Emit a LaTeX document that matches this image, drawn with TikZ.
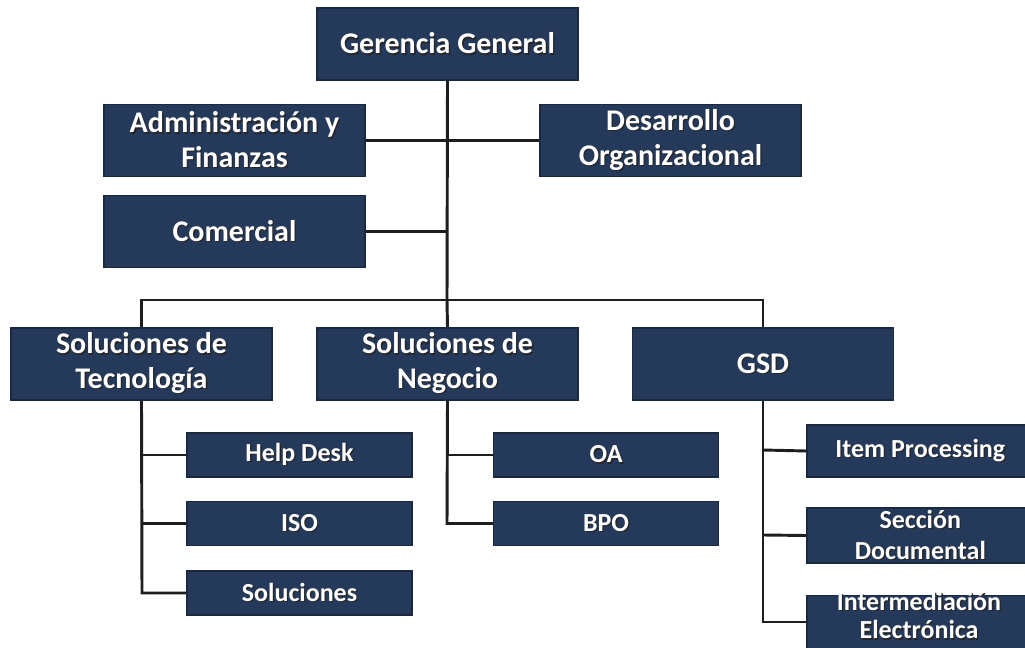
\documentclass[tikz,border=0pt]{standalone}
\usepackage{fontspec}
\setmainfont{Carlito}
\definecolor{boxfill}{HTML}{25395A}
\definecolor{boxedge}{HTML}{1A2840}
\definecolor{linec}{HTML}{1E1E1E}
\newcommand\sh[1]{\makebox[0pt][l]{\hspace{1pt}\raisebox{-1pt}{\textcolor{black!85}{#1}}}#1}
\tikzset{
  bigbox/.style={fill=boxfill, draw=boxedge, line width=1pt, minimum width=195.75pt, minimum height=54pt,
     text=white, font=\fontsize{22.5}{26}\selectfont\bfseries, align=center, inner sep=0pt},
  smallbox/.style={fill=boxfill, draw=boxedge, line width=1pt, minimum width=168.75pt, minimum height=33pt,
     text=white, font=\fontsize{19.5}{23}\selectfont\bfseries, align=center, inner sep=0pt},
  rightbox/.style={smallbox, minimum width=180pt, minimum height=40pt},
  conn/.style={draw=linec, line width=2.2pt}
}
\begin{document}
\begin{tikzpicture}[x=0.75pt,y=-0.75pt]
\useasboundingbox (0,0) rectangle (1025,648);
\clip (0,0) rectangle (1025,648);
\fill[white] (0,0) rectangle (1025,648);
\coordinate (bus) at (447,300);
\coordinate (busL) at (142,300);
\coordinate (busR) at (763,300);
\coordinate (jAdm) at (447,140.5);
\coordinate (jCom) at (447,231.5);
\coordinate (tvEnd) at (142,593);
\coordinate (nvEnd) at (447,523.5);
\coordinate (gvEnd) at (763,622);
\coordinate (t1) at (142,455);
\coordinate (t2) at (142,523.5);
\coordinate (n1) at (447,455);
\coordinate (g1) at (763,450);
\coordinate (g2) at (763,535);

\node[bigbox] (gg) at (447.5,44) {\sh{Gerencia General}};
\node[bigbox] (adm) at (234.5,140.5) {\sh{Administración y}\\\sh{Finanzas}};
\node[bigbox] (des) at (670.5,140.5) {\sh{Desarrollo}\\\sh{Organizacional}};
\node[bigbox] (com) at (234.5,231.5) {\sh{Comercial}};
\node[bigbox] (tec) at (141.5,364) {\sh{Soluciones de}\\\sh{Tecnología}};
\node[bigbox] (neg) at (447.5,364) {\sh{Soluciones de}\\\sh{Negocio}};
\node[bigbox] (gsd) at (763,364) {\sh{GSD}};
\node[smallbox] (hd) at (299.5,455) {\sh{Help Desk}};
\node[smallbox] (iso) at (299.5,523.5) {\sh{ISO}};
\node[smallbox] (sol) at (299.5,593) {\sh{Soluciones}};
\node[smallbox] (oa) at (606,455) {\sh{OA}};
\node[smallbox] (bpo) at (606,523.5) {\sh{BPO}};
\node[rightbox, minimum height=39pt] (ip) at (927,451) {\hspace*{-10pt}\sh{Item Processing}};
\node[rightbox, minimum height=41pt] (sd) at (927,535.5) {\hspace*{-10pt}\sh{Sección}\\\hspace*{-10pt}\sh{Documental}};
\node[rightbox, minimum height=66pt, anchor=north] (ie) at (927,595) {};
\node[text=white, font=\fontsize{19.5}{21.5}\selectfont\bfseries, align=center, inner sep=0pt] (iet) at (919,616) {\sh{Intermediación}\\\sh{Electrónica}};

\draw[conn] (gg.south) -- (bus);
\draw[conn] (adm.east) -- (jAdm) -- (des.west);
\draw[conn] (com.east) -- (jCom);
\draw[conn] (tec.north) |- (busL) -- (busR) -- (gsd.north);
\draw[conn] (bus) -- (neg.north);
\draw[conn] (tec.south) -- (tvEnd) -- (sol.west);
\draw[conn] (t1) -- (hd.west);
\draw[conn] (t2) -- (iso.west);
\draw[conn] (neg.south) -- (nvEnd) -- (bpo.west);
\draw[conn] (n1) -- (oa.west);
\draw[conn] (gsd.south) -- (gvEnd) -- (ie.west |- gvEnd);
\draw[conn] (g1) -- (ip.west);
\draw[conn] (g2) -- (sd.west);
\end{tikzpicture}
\end{document}
